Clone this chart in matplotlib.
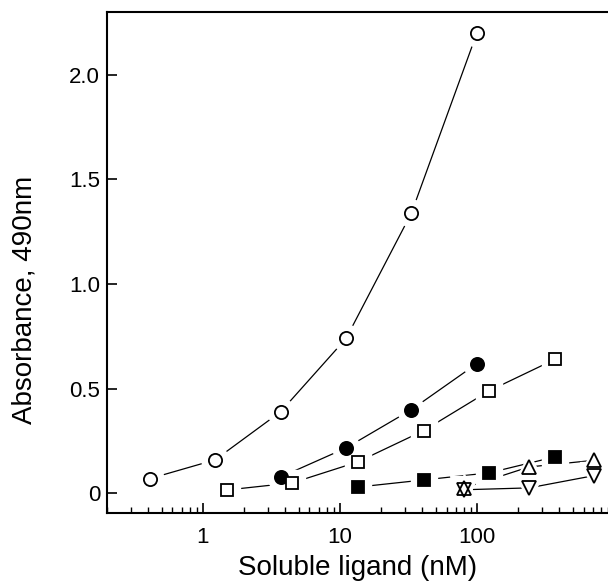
import matplotlib
matplotlib.use("Agg")
import matplotlib.pyplot as plt

plt.rcParams['font.family'] = ['Liberation Sans', 'DejaVu Sans']

# data
open_circle_x = [0.41, 1.23, 3.7, 11.1, 33.3, 100]
open_circle_y = [0.07, 0.16, 0.39, 0.74, 1.34, 2.20]

filled_circle_x = [3.7, 11.1, 33.3, 100]
filled_circle_y = [0.078, 0.217, 0.40, 0.62]

open_square_x = [1.5, 4.5, 13.5, 41, 123, 370]
open_square_y = [0.016, 0.05, 0.15, 0.30, 0.49, 0.64]

filled_square_x = [13.5, 41, 123, 370]
filled_square_y = [0.03, 0.064, 0.098, 0.174]

up_tri_x = [80, 240, 720]
up_tri_y = [0.025, 0.126, 0.158]

down_tri_x = [80, 240, 720]
down_tri_y = [0.017, 0.026, 0.085]

y_ticks = [0, 0.5, 1.0, 1.5, 2.0]
y_tick_labels = ['0', '0.5', '1.0', '1.5', '2.0']
x_ticks = [1, 10, 100]
x_tick_labels = ['1', '10', '100']

series = [
    (open_circle_x, open_circle_y, 'o', 'white', 9.5),
    (filled_circle_x, filled_circle_y, 'o', 'black', 9.5),
    (open_square_x, open_square_y, 's', 'white', 9),
    (filled_square_x, filled_square_y, 's', 'black', 9),
    (up_tri_x, up_tri_y, '^', 'none', 10.5),
    (down_tri_x, down_tri_y, 'v', 'none', 10.5),
]

fig = plt.figure(figsize=(6.08, 5.85), dpi=100)
ax = fig.add_axes([107 / 608, 72 / 585, 1 - 107 / 608, 501 / 585])

# lines first, then white halos to cut gaps, then the markers
for x, y, m, fc, ms in series:
    ax.plot(x, y, '-', color='black', lw=0.9, zorder=1)
for x, y, m, fc, ms in series:
    ax.plot(x, y, ls='none', marker=m, ms=ms + 10, mfc='white', mec='white', zorder=2)
for x, y, m, fc, ms in series:
    ax.plot(x, y, ls='none', marker=m, ms=ms, mfc=fc, mec='black', mew=1.3, zorder=3)

ax.set_xscale('log')
ax.set_xlim(0.2, 904)
ax.set_ylim(-0.094, 2.30)

ax.set_xticks(x_ticks)
ax.set_xticklabels(x_tick_labels)
ax.set_yticks(y_ticks)
ax.set_yticklabels(y_tick_labels)
ax.minorticks_on()
ax.yaxis.set_minor_locator(matplotlib.ticker.NullLocator())

ax.tick_params(which='major', direction='in', length=7, width=1.2, labelsize=16)
ax.tick_params(which='minor', direction='in', length=4, width=1.0)
ax.tick_params(axis='y', pad=5)
ax.tick_params(axis='x', pad=10)
ax.tick_params(top=False, right=False)

for s in ['left', 'bottom', 'top']:
    ax.spines[s].set_linewidth(1.5)
ax.spines['right'].set_visible(False)

ax.set_xlabel('Soluble ligand (nM)', fontsize=20, labelpad=5)
ax.set_ylabel('Absorbance, 490nm', fontsize=20, va='center')
ax.yaxis.set_label_coords(-0.164, 0.425)

fig.savefig('out.png', dpi=100)
